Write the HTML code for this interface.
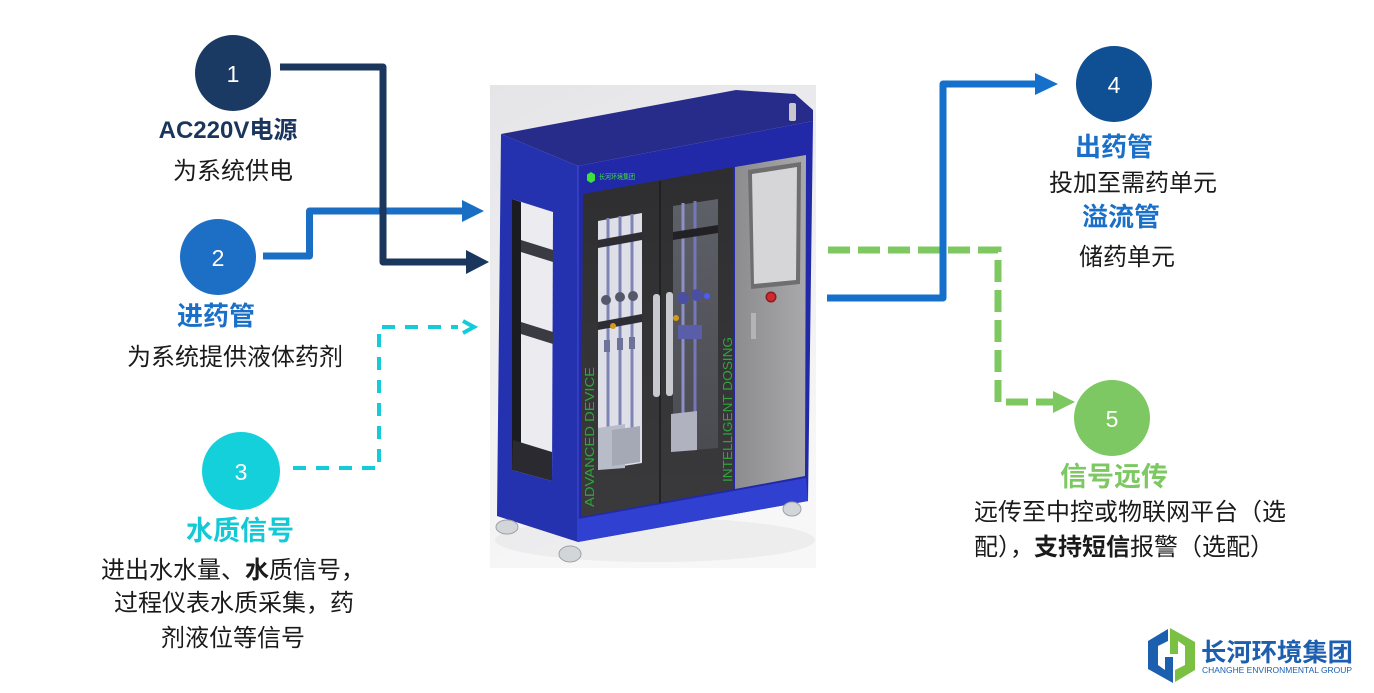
<!DOCTYPE html>
<html><head><meta charset="utf-8">
<style>
html,body{margin:0;padding:0;background:#fff;}
svg{display:block;}
text{font-family:"Liberation Sans","Noto Sans CJK SC",sans-serif;}
</style></head><body>
<svg width="1374" height="693" viewBox="0 0 1374 693" xmlns="http://www.w3.org/2000/svg">
<defs>
<linearGradient id="bg" x1="0" y1="0" x2="0.3" y2="1">
<stop offset="0" stop-color="#e5e5e8"/><stop offset="0.6" stop-color="#f0f0f1"/><stop offset="1" stop-color="#f7f7f7"/>
</linearGradient>
<linearGradient id="gp" x1="0" y1="0" x2="1" y2="0">
<stop offset="0" stop-color="#8c8c8f"/><stop offset="1" stop-color="#a9a9ac"/>
</linearGradient>
<linearGradient id="dp" x1="0" y1="0" x2="0" y2="1">
<stop offset="0" stop-color="#2e2e31"/><stop offset="1" stop-color="#3a3a3c"/>
</linearGradient>
<linearGradient id="rw" x1="0" y1="0" x2="0" y2="1">
<stop offset="0" stop-color="#5e6068"/><stop offset="1" stop-color="#4a4b50"/>
</linearGradient>
</defs>
<rect width="1374" height="693" fill="#fff"/>

<!-- product image -->
<rect x="490" y="85" width="326" height="483" fill="url(#bg)"/>
<ellipse cx="655" cy="540" rx="160" ry="22" fill="#e4e4e6" opacity="0.5"/>
<!-- top face -->
<polygon points="501,134 736,90 795,94 813,110 813,121 578,166" fill="#272b8a"/>
<!-- left side -->
<polygon points="501,134 578,166 578,542 497,516" fill="#2532b0"/>
<!-- front frame -->
<polygon points="578,166 813,121 808,501 578,542" fill="#2229a8"/>
<line x1="578" y1="166" x2="578" y2="542" stroke="#3846c4" stroke-width="1.5"/>
<!-- side window -->
<polygon points="512,199 553,212 552,481 512,470" fill="#ececf0"/>
<polygon points="512,199 521,202 521,472 512,470" fill="#1b1b22"/>
<polygon points="521,240 553,250 553,262 521,252" fill="#3a3a42"/>
<polygon points="521,322 553,332 553,344 521,334" fill="#3a3a42"/>
<polygon points="513,440 552,452 552,481 512,470" fill="#2a2a30"/>
<!-- dark panel -->
<polygon points="583,194 733,167 733,489 581,517" fill="url(#dp)"/>
<line x1="660" y1="181" x2="660" y2="503" stroke="#1c1c20" stroke-width="1.5"/>
<!-- left door window -->
<polygon points="598,221 642,213 642,463 598,470" fill="#dfe0e7"/>
<line x1="608" y1="218" x2="608" y2="455" stroke="#7f84b6" stroke-width="3"/>
<line x1="620" y1="216" x2="620" y2="455" stroke="#7f84b6" stroke-width="3"/>
<line x1="632" y1="214" x2="632" y2="455" stroke="#7f84b6" stroke-width="3"/>
<polygon points="598,240 642,232 642,240 598,248" fill="#2d2d33"/>
<polygon points="598,322 642,314 642,322 598,330" fill="#2d2d33"/>
<circle cx="606" cy="300" r="5" fill="#55586a"/>
<circle cx="620" cy="297" r="5" fill="#55586a"/>
<circle cx="633" cy="296" r="5" fill="#55586a"/>
<circle cx="613" cy="326" r="3" fill="#d49a1e"/>
<rect x="604" y="340" width="6" height="12" fill="#6d7298"/>
<rect x="617" y="338" width="6" height="12" fill="#6d7298"/>
<rect x="629" y="337" width="6" height="12" fill="#6d7298"/>
<polygon points="598,428 625,424 625,468 598,470" fill="#b8bcc8"/>
<polygon points="612,430 640,426 640,462 612,466" fill="#a5a9b6"/>
<!-- right door window -->
<polygon points="673,206 718,199 718,448 673,452" fill="url(#rw)"/>
<line x1="683" y1="203" x2="683" y2="450" stroke="#8d90c8" stroke-width="3"/>
<line x1="695" y1="201" x2="695" y2="420" stroke="#7478b8" stroke-width="3"/>
<polygon points="673,232 718,225 718,233 673,240" fill="#222226"/>
<circle cx="683" cy="298" r="6" fill="#4b4fa0"/>
<circle cx="697" cy="295" r="6" fill="#4b4fa0"/>
<circle cx="707" cy="296" r="3" fill="#4a5cff"/>
<circle cx="676" cy="318" r="3" fill="#d49a1e"/>
<rect x="678" y="325" width="24" height="14" fill="#5a5ea8"/>
<polygon points="671,414 697,411 697,450 671,452" fill="#b0b3bf"/>
<!-- control panel -->
<polygon points="735,167 806,155 805,476 735,489" fill="url(#gp)"/>
<polygon points="748,170 801,162 800,284 751,289" fill="#6e6e71"/>
<polygon points="752,174 797,167 796,280 754,284" fill="#d6d6d8"/>
<circle cx="771" cy="297" r="5.5" fill="#8b1b1e"/>
<circle cx="771" cy="297" r="4" fill="#d02a2e"/>
<rect x="751" y="313" width="5" height="26" fill="#b4b4b6"/>
<!-- handles -->
<rect x="653" y="294" width="7" height="103" rx="3" fill="#c9cad0"/>
<rect x="666" y="292" width="7" height="104" rx="3" fill="#c9cad0"/>
<!-- kick plate -->
<polygon points="578,519 806,478 808,501 578,542" fill="#3040d0"/>
<!-- feet / knob -->
<ellipse cx="507" cy="527" rx="11" ry="7" fill="#d3d6d9" stroke="#9da0a5"/>
<ellipse cx="570" cy="554" rx="11" ry="8" fill="#d3d6d9" stroke="#9da0a5"/>
<ellipse cx="792" cy="509" rx="9" ry="7" fill="#d3d6d9" stroke="#9da0a5"/>
<rect x="789" y="103" width="7" height="18" rx="2" fill="#c8c8cc"/>
<!-- cabinet texts -->
<polygon points="591,172 595,174.5 595,180.5 591,183 587,180.5 587,174.5" fill="#3ee03e"/>
<text x="599" y="179" font-size="7" fill="#3ee03e" textLength="36" lengthAdjust="spacingAndGlyphs">长河环境集团</text>
<text transform="translate(594,507) rotate(-90)" font-size="13" fill="#2fa53a" textLength="140" lengthAdjust="spacingAndGlyphs">ADVANCED DEVICE</text>
<text transform="translate(732,482) rotate(-90)" font-size="13" fill="#2fa53a" textLength="145" lengthAdjust="spacingAndGlyphs">INTELLIGENT DOSING</text>

<!-- connectors left -->
<path d="M263,256 H309.5 V211 H464" fill="none" stroke="#1a6fc4" stroke-width="7" stroke-linejoin="round"/>
<polygon points="462,200 484,211 462,222" fill="#1a6fc4"/>
<path d="M280,67 H383 V262 H468" fill="none" stroke="#1b365d" stroke-width="7" stroke-linejoin="round"/>
<polygon points="466,250 489,262 466,274" fill="#1b365d"/>
<path d="M293,468 H379 V327 H458" fill="none" stroke="#14ccd8" stroke-width="4" stroke-dasharray="13 10"/>
<polyline points="463,321 474,327 463,333" fill="none" stroke="#14ccd8" stroke-width="4"/>

<!-- connectors right -->
<path d="M828,250 H998 V402 H1056" fill="none" stroke="#7ec862" stroke-width="7" stroke-dasharray="22 8"/>
<polygon points="1053,391 1075,402 1053,413" fill="#7ec862"/>
<path d="M827,298 H943 V84 H1037" fill="none" stroke="#1570cc" stroke-width="7" stroke-linejoin="round"/>
<polygon points="1035,73 1058,84 1035,95" fill="#1570cc"/>

<!-- circles -->
<circle cx="233" cy="73" r="38" fill="#1b3a63"/>
<text x="233" y="82" font-size="23" fill="#fff" text-anchor="middle">1</text>
<circle cx="218" cy="257" r="38" fill="#1c6fc4"/>
<text x="218" y="266" font-size="23" fill="#fff" text-anchor="middle">2</text>
<circle cx="241" cy="471" r="39" fill="#14d0da"/>
<text x="241" y="480" font-size="23" fill="#fff" text-anchor="middle">3</text>
<circle cx="1114" cy="84" r="38" fill="#0f4f93"/>
<text x="1114" y="93" font-size="23" fill="#fff" text-anchor="middle">4</text>
<circle cx="1112" cy="418" r="38" fill="#7dc862"/>
<text x="1112" y="427" font-size="23" fill="#fff" text-anchor="middle">5</text>

<!-- left labels -->
<text x="228" y="138" font-size="24" font-weight="bold" fill="#1b365d" text-anchor="middle">AC220V电源</text>
<text x="233" y="179" font-size="24" fill="#1a1a1a" text-anchor="middle">为系统供电</text>
<text x="216" y="325" font-size="26" font-weight="bold" fill="#1a70c8" text-anchor="middle">进药管</text>
<text x="235" y="365" font-size="24" fill="#1a1a1a" text-anchor="middle">为系统提供液体药剂</text>
<text x="240" y="540" font-size="27" font-weight="bold" fill="#14c9d6" text-anchor="middle">水质信号</text>
<text x="101" y="578" font-size="24" fill="#1a1a1a">进出水水量、<tspan font-weight="bold">水</tspan>质信号，</text>
<text x="114" y="611" font-size="24" fill="#1a1a1a">过程仪表水质采集，药</text>
<text x="161" y="646" font-size="24" fill="#1a1a1a">剂液位等信号</text>

<!-- right labels -->
<text x="1114" y="156" font-size="26" font-weight="bold" fill="#1a70c8" text-anchor="middle">出药管</text>
<text x="1049" y="191" font-size="24" fill="#1a1a1a">投加至需药单元</text>
<text x="1121" y="226" font-size="26" font-weight="bold" fill="#1a70c8" text-anchor="middle">溢流管</text>
<text x="1079" y="265" font-size="24" fill="#1a1a1a">储药单元</text>
<text x="1114" y="486" font-size="27" font-weight="bold" fill="#7dc862" text-anchor="middle">信号远传</text>
<text x="974" y="520" font-size="24" fill="#1a1a1a">远传至中控或物联网平台（选</text>
<text x="974" y="555" font-size="24" fill="#1a1a1a">配），<tspan font-weight="bold">支持短信</tspan>报警（选配）</text>

<!-- logo -->
<path d="M1168,629 L1148,641 L1148,669 L1173,683 L1173,657 L1165,657 L1165,670 L1158,665 L1158,646 L1168,641 Z" fill="#1b5fae"/>
<path d="M1175,682 L1195,670 L1195,642 L1170,628 L1170,654 L1178,654 L1178,641 L1185,646 L1185,665 L1175,670 Z" fill="#7ac143"/>
<text x="1201" y="661" font-size="25" font-weight="bold" fill="#1d5fae" textLength="152" lengthAdjust="spacingAndGlyphs">长河环境集团</text>
<text x="1202" y="673" font-size="8.5" fill="#1d5fae" textLength="150" lengthAdjust="spacingAndGlyphs">CHANGHE ENVIRONMENTAL GROUP</text>
</svg>
</body></html>
